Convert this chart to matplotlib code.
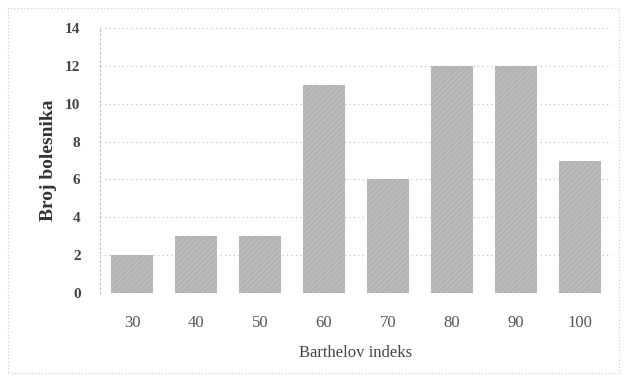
import matplotlib.pyplot as plt
from matplotlib.patches import Rectangle

categories = ["30", "40", "50", "60", "70", "80", "90", "100"]
counts = [2, 3, 3, 11, 6, 12, 12, 7]
y_ticks = [0, 2, 4, 6, 8, 10, 12, 14]

plt.rcParams['font.family'] = ['Liberation Serif', 'DejaVu Serif']
plt.rcParams['hatch.linewidth'] = 0.5

fig = plt.figure(figsize=(6.27, 3.77), dpi=100)
ax = fig.add_axes([0.1595, 0.2228, 0.8165, 0.7029])

x = list(range(len(categories)))
ax.bar(x, counts, width=0.67, color='#b3b3b3', edgecolor='#c6c6c6',
       hatch='//////', linewidth=0, zorder=2)

ax.set_xlim(-0.5, len(categories) - 0.5)
ax.set_ylim(0, 14)
ax.set_yticks(y_ticks)
ax.set_yticklabels([str(t) for t in y_ticks], fontsize=11, color='#444444', fontweight='bold')
ax.set_xticks(x)
ax.set_xticklabels(categories, fontsize=12, color='#555555')
ax.tick_params(axis='y', length=0, pad=14)
ax.tick_params(axis='x', length=0, pad=16)

ax.yaxis.grid(True, linestyle=(0, (1, 3)), color='#bbbbbb', linewidth=0.8, zorder=0)
for side in ['top', 'right', 'bottom']:
    ax.spines[side].set_visible(False)
ax.spines['left'].set_linestyle((0, (1, 3)))
ax.spines['left'].set_color('#bbbbbb')

ax.set_ylabel("Broj bolesnika", fontsize=14, fontweight='bold', color='#333333', labelpad=6)
ax.set_xlabel("Barthelov indeks", fontsize=12, color='#444444', labelpad=10)

fig.patches.append(Rectangle((0.013, 0.01), 0.975, 0.97, transform=fig.transFigure,
                             fill=False, edgecolor='#cccccc', linestyle=(0, (1, 2)), linewidth=0.8))

fig.savefig("out.png", dpi=100)
